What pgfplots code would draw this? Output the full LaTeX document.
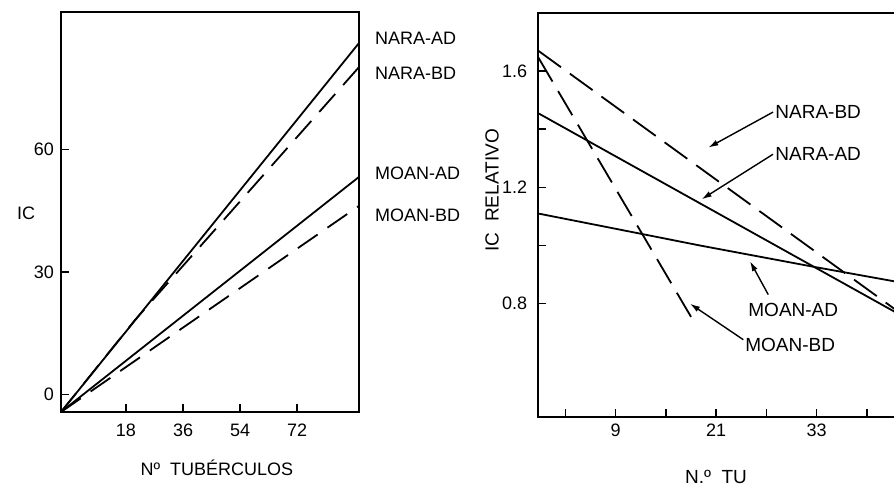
\documentclass[border=0pt]{standalone}
\usepackage{fontspec}
\setmainfont{Liberation Sans}
\usepackage{pgfplots}
\pgfplotsset{compat=1.18}
\usetikzlibrary{arrows.meta}

\pgfplotsset{
  panel/.style={
    scale only axis,
    anchor=south west,
    clip=false,
    axis line style={line width=1pt},
    tick style={line width=0.8pt, black},
    tick align=inside,
    xtick pos=bottom, ytick pos=left,
    major tick length=4pt, minor tick length=4pt,
    /pgf/number format/assume math mode=true,
    tick label style={font=\fontsize{9}{10}\selectfont},
  },
  cur/.style={black, line width=0.9pt},
}

\begin{document}
\begin{tikzpicture}
\path[use as bounding box] (0,0) rectangle (447pt,242.5pt);

% left panel: IC vs number of tubercles
\begin{axis}[panel,
    at={(30.5pt,36.5pt)}, width=149pt, height=200pt,
    xmin=-2.5, xmax=91.5, ymin=-4.3, ymax=93.7,
    xtick={18,36,54,72}, ytick={0,30,60},
    xticklabel style={yshift=-2.5pt},
  ]
  \addplot[cur] coordinates {(-2.5,-4.3) (91.5,86.1)};
  \addplot[cur, dash pattern=on 12pt off 6pt] coordinates {(-2.5,-4.3) (20.8,18.2) (91.5,80.2)};
  \addplot[cur] coordinates {(-2.5,-4.3) (91.5,53.3)};
  \addplot[cur, dash pattern=on 12pt off 6pt] coordinates {(-2.5,-4.3) (91.5,46.2)};

  \begin{scope}[every node/.style={font=\fontsize{9}{10}\selectfont, anchor=west, xshift=4.5pt}]
    \node at (axis cs:91.5,87.3) {NARA-AD};
    \node at (axis cs:91.5,78.8) {NARA-BD};
    \node at (axis cs:91.5,54.3) {MOAN-AD};
    \node at (axis cs:91.5,44.0) {MOAN-BD};
  \end{scope}
  \node[font=\fontsize{9}{10}\selectfont] at (axis cs:-13.5,44.5) {IC};
  \node[font=\fontsize{9}{10}\selectfont] at (axis cs:46.7,-18.0) {Nº\ \ TUBÉRCULOS};
\end{axis}

% right panel: relative IC
\begin{axis}[panel,
    at={(269.15pt,34pt)}, width=181.05pt, height=202pt,
    xmin=-0.24, xmax=43, ymin=0.41, ymax=1.80,
    xtick={9,21,33}, minor xtick={3,15,27,39},
    ytick={0.8,1.2,1.6}, minor ytick={1.0,1.4},
    yticklabel style={xshift=-2pt, /pgf/number format/fixed, /pgf/number format/precision=1, /pgf/number format/fixed zerofill},
  ]
  \addplot[cur] coordinates {(-0.24,1.455) (43,0.761)};
  \addplot[cur, dash pattern=on 14pt off 5.5pt] coordinates {(-0.24,1.670) (43,0.767)};
  \addplot[cur] coordinates {(-0.24,1.110) (11.9,1.041) (19.07,1.0) (32.6,0.927) (43,0.873)};
  \addplot[cur, dash pattern=on 14pt off 5.5pt] coordinates {(-0.24,1.647) (18.07,0.751)};

  \begin{scope}[font=\fontsize{9.5}{11}\selectfont]
    \draw[line width=0.7pt, -{Latex[length=5pt,width=3pt]}] (axis cs:27.79,1.459) -- (axis cs:20.06,1.337);
    \node[anchor=west, inner sep=1pt] at (axis cs:27.79,1.459) {NARA-BD};
    \draw[line width=0.7pt, -{Latex[length=5pt,width=3pt]}] (axis cs:27.79,1.314) -- (axis cs:19.27,1.159);
    \node[anchor=west, inner sep=1pt] at (axis cs:27.79,1.314) {NARA-AD};
    \draw[line width=0.7pt, -{Latex[length=5pt,width=3pt]}] (axis cs:27.22,0.831) -- (axis cs:25.04,0.946);
    \node[anchor=west, inner sep=0pt] at (axis cs:24.8,0.779) {MOAN-AD};
    \draw[line width=0.7pt, -{Latex[length=5pt,width=3pt]}] (axis cs:24.24,0.676) -- (axis cs:17.87,0.80);
    \node[anchor=west, inner sep=0pt] at (axis cs:24.44,0.659) {MOAN-BD};
    \node[rotate=90] at (axis cs:-5.77,1.19) {IC\ \ RELATIVO};
    \node at (axis cs:20.98,0.203) {N.º\ \ TU};
  \end{scope}
\end{axis}
\end{tikzpicture}
\end{document}
